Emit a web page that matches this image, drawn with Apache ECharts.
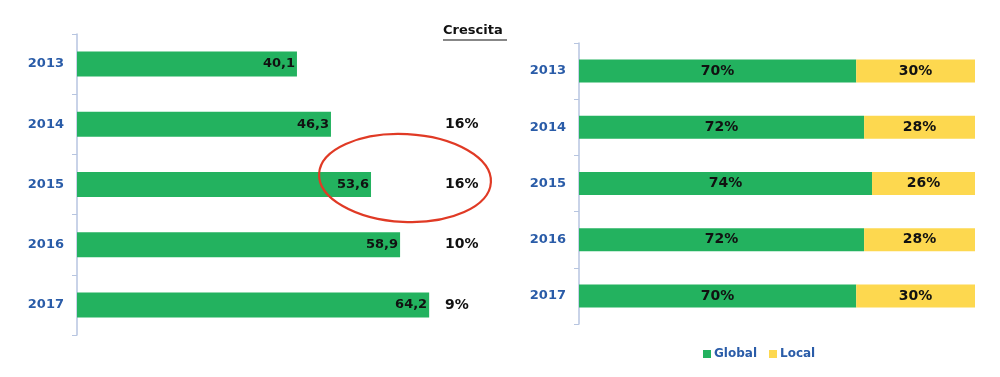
<!DOCTYPE html>
<html lang="it" style="height: 100%">
<head>
  <meta charset="utf-8">
</head>
<body style="height: 100%; margin: 0">
  <div id="container" style="width: 1000px; height: 377px"></div>

  <script type="text/javascript" src="https://cdn.jsdelivr.net/npm/echarts@6/dist/echarts.min.js"></script>

  <script type="text/javascript">
    var years = ['2013', '2014', '2015', '2016', '2017'];
    var fatturato = [40.1, 46.3, 53.6, 58.9, 64.2];
    var crescita = ['', '16%', '16%', '10%', '9%'];
    var globalShare = [70, 72, 74, 72, 70];
    var localShare = [30, 28, 26, 28, 30];

    var green = '#23b25f';
    var yellow = '#fdd84f';
    var blue = '#2a5ca8';
    var axisCol = '#b7c5e0';
    var font = 'DejaVu Sans';

    var dom = document.getElementById('container');
    var myChart = echarts.init(dom, null, { renderer: 'canvas' });

    function catAxis(gridIndex) {
      return {
        type: 'category',
        gridIndex: gridIndex,
        data: years,
        inverse: true,
        axisLine: { lineStyle: { color: axisCol, width: 1.5 } },
        axisTick: { show: true, length: 5, lineStyle: { color: axisCol } },
        axisLabel: {
          color: blue, fontFamily: font, fontWeight: 'bold', fontSize: 13, margin: 13
        }
      };
    }

    var option = {
      animation: false,
      textStyle: { fontFamily: font },
      grid: [
        { left: 77, top: 34, width: 373, height: 301 },
        { left: 579, top: 43, width: 396, height: 281 }
      ],
      xAxis: [
        { type: 'value', gridIndex: 0, min: 0, max: 68, show: false },
        { type: 'value', gridIndex: 1, min: 0, max: 100, show: false }
      ],
      yAxis: [
        catAxis(0),
        catAxis(1),
        {
          type: 'category',
          gridIndex: 0,
          data: crescita,
          inverse: true,
          position: 'right',
          axisLine: { show: false },
          axisTick: { show: false },
          axisLabel: {
            color: '#111', fontFamily: font, fontWeight: 'bold', fontSize: 14,
            align: 'left', margin: -5
          }
        }
      ],
      legend: {
        data: ['Global', 'Local'],
        left: 698,
        top: 343,
        itemWidth: 8,
        itemHeight: 8,
        itemGap: 12,
        icon: 'rect',
        textStyle: { color: blue, fontFamily: font, fontWeight: 'bold', fontSize: 12, padding: [0, 0, 0, -2] }
      },
      series: [
        {
          type: 'bar',
          xAxisIndex: 0,
          yAxisIndex: 0,
          data: fatturato,
          barWidth: 25,
          itemStyle: { color: green },
          label: {
            show: true, position: 'insideRight', distance: 2,
            color: '#111', fontFamily: font, fontWeight: 'bold', fontSize: 13,
            formatter: function (p) { return p.value.toFixed(1).replace('.', ','); }
          }
        },
        {
          name: 'Global',
          type: 'bar',
          stack: 'quota',
          xAxisIndex: 1,
          yAxisIndex: 1,
          data: globalShare,
          barWidth: 23,
          itemStyle: { color: green },
          label: {
            show: true, position: 'inside',
            color: '#111', fontFamily: font, fontWeight: 'bold', fontSize: 14,
            formatter: '{c}%'
          }
        },
        {
          name: 'Local',
          type: 'bar',
          stack: 'quota',
          xAxisIndex: 1,
          yAxisIndex: 1,
          data: localShare,
          barWidth: 23,
          itemStyle: { color: yellow },
          label: {
            show: true, position: 'inside',
            color: '#111', fontFamily: font, fontWeight: 'bold', fontSize: 14,
            formatter: '{c}%'
          }
        }
      ],
      graphic: [
        {
          type: 'text',
          left: 443,
          top: 24,
          style: { text: 'Crescita', fill: '#111', font: 'bold 13px "DejaVu Sans"' }
        },
        {
          type: 'line',
          shape: { x1: 443, y1: 40, x2: 507, y2: 40 },
          style: { stroke: '#111', lineWidth: 1.2 }
        },
        {
          type: 'ellipse',
          shape: { cx: 405, cy: 178, rx: 86, ry: 44 },
          rotation: -0.05,
          originX: 405,
          originY: 178,
          style: { fill: null, stroke: '#e03a25', lineWidth: 2.2 },
          z: 100
        }
      ]
    };

    myChart.setOption(option);
    window.addEventListener('resize', myChart.resize);
  </script>
</body>
</html>
